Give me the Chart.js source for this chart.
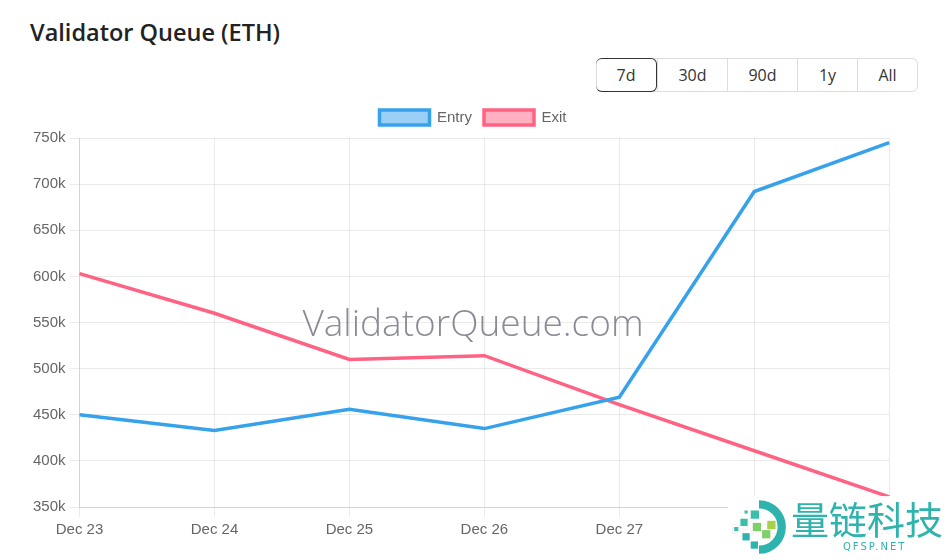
<!DOCTYPE html>
<html><head><meta charset="utf-8">
<script src="https://cdn.jsdelivr.net/npm/chart.js@4.4.0/dist/chart.umd.min.js"></script>
<style>
html,body{margin:0;padding:0;background:#fff;width:949px;height:560px;overflow:hidden;font-family:"Open Sans","Noto Sans",sans-serif;}
#title{position:absolute;left:30px;top:16px;font-size:23.5px;font-weight:600;color:#222;}
#btns{position:absolute;left:596px;top:58px;height:34px;display:flex;border:1px solid #ddd;border-radius:6px;box-sizing:border-box;}
#btns div{height:32px;line-height:32px;text-align:center;font-size:16px;color:#333;border-left:1px solid #ddd;box-sizing:border-box;}
#btns div:first-child{border-left:none;}
#btns .act{border:1px solid #333;border-radius:6px;margin:-1px 0 -1px -1px;height:34px;line-height:32px;}
#wrap{position:absolute;left:29px;top:98px;width:888px;height:445px;}
#wm{position:absolute;left:0;width:946px;top:296px;text-align:center;font-family:"Open Sans",sans-serif;font-weight:300;font-size:37px;color:rgba(110,110,125,0.8);pointer-events:none;}
#logo{position:absolute;left:728px;top:496px;width:221px;height:64px;background:rgba(255,255,255,0.92);}
#logo .cn{position:absolute;left:63px;top:-2px;font-family:"Noto Sans CJK SC",sans-serif;font-size:38px;color:#2fb3ad;letter-spacing:0px;line-height:48px;}
#logo .en{position:absolute;left:115px;top:45px;font-family:"DejaVu Sans",sans-serif;font-size:10px;color:#2fb3ad;letter-spacing:2px;}
</style></head>
<body>
<div id="title">Validator Queue (ETH)</div>
<div id="btns"><div class="act" style="width:61px">7d</div><div style="width:70px">30d</div><div style="width:70px">90d</div><div style="width:60px">1y</div><div style="width:60px">All</div></div>
<div id="wrap"><canvas id="c"></canvas></div>
<div id="wm">ValidatorQueue.com</div>
<div id="logo">
<svg width="62" height="62" style="position:absolute;left:0;top:0px" viewBox="0 0 60 60">
<path d="M30 8 A22 22 0 1 1 30 52" fill="none" stroke="#2fb3ad" stroke-width="8"/>
<rect x="22" y="14" width="8" height="8" fill="#3bbfa8"/>
<rect x="12" y="22" width="7" height="7" fill="#3bbfa8"/>
<rect x="24" y="26" width="8" height="8" fill="#7fcf6a"/>
<rect x="38" y="24" width="8" height="8" fill="#a6d24a"/>
<rect x="33" y="33" width="8" height="8" fill="#7fcf6a"/>
<rect x="14" y="36" width="7" height="7" fill="#2fb3ad"/>
<rect x="22" y="44" width="7" height="7" fill="#2fb3ad"/>
<rect x="6" y="30" width="4" height="4" fill="#3bbfa8"/>
<rect x="16" y="14" width="3" height="3" fill="#3bbfa8"/>
</svg>
<div class="cn">量链科技</div>
<div class="en">QFSP.NET</div>
</div>
<script>
const labels = ["Dec 23","Dec 24","Dec 25","Dec 26","Dec 27","Dec 28","Dec 29"];
const entryValues = [450000, 433000, 456000, 435000, 469000, 692000, 745000];
const exitValues = [603000, 560000, 510000, 514000, 461000, 411000, 361000];
const yTicks = [350000,400000,450000,500000,550000,600000,650000,700000,750000];

const font = {family:"'Liberation Sans', Arial, sans-serif", size:15};
const legendMargin = {id:'legendMargin', beforeInit(chart){
  const fit = chart.legend.fit;
  chart.legend.fit = function(){ fit.bind(chart.legend)(); this.height += 3; };
}};
new Chart(document.getElementById('c'), {
  type:'line',
  data:{labels:labels, datasets:[
    {label:'Entry', data:entryValues, borderColor:'rgb(54,162,235)', backgroundColor:'rgba(54,162,235,0.5)', borderWidth:3.5, pointRadius:0, tension:0},
    {label:'Exit', data:exitValues, borderColor:'rgb(255,99,132)', backgroundColor:'rgba(255,99,132,0.5)', borderWidth:3.5, pointRadius:0, tension:0}
  ]},
  plugins:[legendMargin],
  options:{
    responsive:true, maintainAspectRatio:false, animation:false,
    plugins:{legend:{labels:{font:font, color:'#666', boxWidth:50, boxHeight:15, padding:12}}, tooltip:{enabled:false}},
    scales:{
      x:{ticks:{font:font,color:'#666',maxRotation:0,autoSkip:false,padding:4}, grid:{color:'rgba(0,0,0,0.08)',tickLength:10}},
      y:{min:350000,max:750000,
         afterBuildTicks:(s)=>{s.ticks=yTicks.map(v=>({value:v}));},
         ticks:{font:font,color:'#666',padding:4,callback:(v)=>(v/1000)+'k'},
         grid:{color:'rgba(0,0,0,0.08)',tickLength:10}}
    }
  }
});
</script>
</body></html>
